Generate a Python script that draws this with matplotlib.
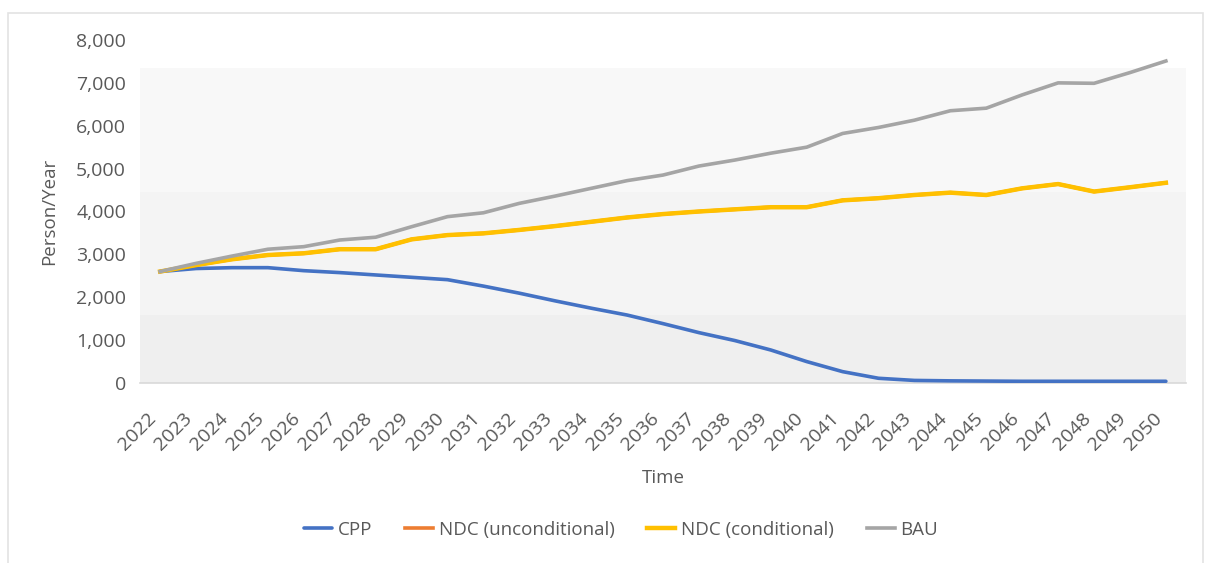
import matplotlib
matplotlib.use("Agg")
import matplotlib.pyplot as plt
from matplotlib.patches import Rectangle

# Annual series, 2022-2050 (Person/Year)
years = list(range(2022, 2051))
year_labels = [str(y) for y in years]

cpp = [2600, 2670, 2690, 2690, 2620, 2575, 2520, 2465, 2410, 2260,
       2095, 1915, 1745, 1585, 1385, 1175, 990, 770, 500, 265,
       110, 60, 50, 45, 40, 40, 40, 40, 40]

ndc_unconditional = [2600, 2750, 2885, 2985, 3025, 3120, 3120, 3350, 3450, 3490,
                     3570, 3660, 3760, 3860, 3940, 4000, 4050, 4100, 4100, 4260,
                     4310, 4385, 4440, 4385, 4540, 4640, 4465, 4565, 4670]

ndc_conditional = [2600, 2750, 2885, 2985, 3025, 3120, 3120, 3350, 3450, 3490,
                   3570, 3660, 3760, 3860, 3940, 4000, 4050, 4100, 4100, 4260,
                   4310, 4385, 4440, 4385, 4540, 4640, 4465, 4565, 4670]

bau = [2600, 2790, 2960, 3120, 3180, 3335, 3400, 3645, 3880, 3970,
       4190, 4360, 4540, 4720, 4850, 5060, 5200, 5360, 5500, 5820,
       5960, 6130, 6350, 6410, 6720, 7000, 6990, 7240, 7510]

y_ticks = [0, 1000, 2000, 3000, 4000, 5000, 6000, 7000, 8000]

plt.rcParams['font.family'] = ['Open Sans', 'DejaVu Sans']
TEXT = '#595959'
FS = 13.5
TICK_FS = 14

fig = plt.figure(figsize=(12.05, 5.63), dpi=100)
fig.patch.set_facecolor('white')

# light chart-area border
fig.patches.append(Rectangle((8 / 1205, -0.01), 1195 / 1205, 1 - 13 / 563 + 0.01,
                             transform=fig.transFigure, fill=False,
                             edgecolor='#e3e3e3', linewidth=1.2, zorder=0))

ax = fig.add_axes([140 / 1205, 180 / 563, 1046 / 1205, 343 / 563])
ax.set_facecolor('white')

# soft stepped plot-area fill
ax.axhspan(4450, 7350, color='#f8f8f8', lw=0, zorder=0)
ax.axhspan(1580, 4450, color='#f4f4f4', lw=0, zorder=0)
ax.axhspan(0, 1580, color='#efefef', lw=0, zorder=0)

lw = 2.6
ax.plot(years, cpp, color='#4472C4', lw=lw, label='CPP', zorder=3, solid_capstyle='round')
ax.plot(years, ndc_unconditional, color='#ED7D31', lw=lw, label='NDC (unconditional)', zorder=3)
ax.plot(years, ndc_conditional, color='#FFC000', lw=lw + 0.6, label='NDC (conditional)', zorder=4)
ax.plot(years, bau, color='#A5A5A5', lw=lw, label='BAU', zorder=5)

ax.set_xlim(2021.44, 2050.56)
ax.set_ylim(0, 8000)
ax.set_yticks(y_ticks)
ax.set_yticklabels([f"{v:,}" for v in y_ticks], fontsize=TICK_FS, color=TEXT)
ax.set_xticks(years)
ax.set_xticklabels(year_labels, rotation=45, ha='right', fontsize=TICK_FS, color=TEXT)
ax.tick_params(axis='y', length=0, pad=10)
ax.tick_params(axis='x', length=0, pad=19)

for side in ('top', 'right', 'left'):
    ax.spines[side].set_visible(False)
ax.spines['bottom'].set_color('#d9d9d9')
ax.spines['bottom'].set_linewidth(1.2)

ax.set_ylabel('Person/Year', fontsize=FS, color=TEXT, va='center')
ax.yaxis.set_label_coords(-0.087, 0.5)
ax.set_xlabel('Time', fontsize=FS, color=TEXT, va='center')
ax.xaxis.set_label_coords(0.5, -0.277)

handles, labels = ax.get_legend_handles_labels()
fig.legend(handles, labels, loc='center', bbox_to_anchor=(621 / 1205, 33 / 563),
           ncol=4, frameon=False, fontsize=FS, labelcolor=TEXT,
           handlelength=1.5, handletextpad=0.3, columnspacing=1.75)

fig.savefig('out.png', dpi=100, facecolor='white')
